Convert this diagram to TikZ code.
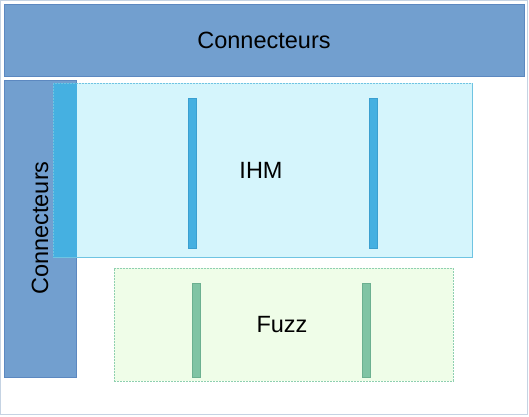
\documentclass[tikz,border=0pt]{standalone}
\usepackage{fontspec}
\setmainfont{Liberation Sans}
\begin{document}
\begin{tikzpicture}[x=1pt,y=-1pt,
  conbar/.style={fill=conblue,draw=conedge,line width=0.8pt},
  ihmbox/.style={fill=ihmfill,draw=ihmedge,dashed,dash pattern=on 2pt off 1pt,line width=0.8pt},
  fuzzbox/.style={fill=fuzzfill,draw=fuzzedge,dash pattern=on 2pt off 1pt,line width=0.8pt},
  ihmbar/.style={fill=ihmbarc,draw=ihmbaredge,line width=0.6pt},
  fuzzbar/.style={fill=fuzzbarc,draw=fuzzbaredge,line width=0.6pt},
  lbl/.style={font=\fontsize{23.5}{26}\selectfont,text=black,inner sep=0pt}]
\definecolor{conblue}{HTML}{729FCF}
\definecolor{conedge}{HTML}{5C88C0}
\definecolor{ihmfill}{HTML}{D5F5FC}
\definecolor{ihmedge}{HTML}{6FC4E2}
\definecolor{fuzzfill}{HTML}{EFFDE8}
\definecolor{fuzzedge}{HTML}{8FD0B0}
\definecolor{ihmbarc}{HTML}{45B0E1}
\definecolor{ihmbaredge}{HTML}{3A9FD0}
\definecolor{fuzzbarc}{HTML}{80C4A4}
\definecolor{fuzzbaredge}{HTML}{6CB090}
\definecolor{frame}{HTML}{C5D3E3}
\useasboundingbox (0,0) rectangle (529,416);
\draw[frame,line width=1pt] (0.5,0.5) rectangle (527.5,414.5);
% top connector bar
\node[conbar,minimum width=520pt,minimum height=72pt,inner sep=0pt,anchor=north west] (top) at (4,4) {};
\node[lbl] (toplbl) at (264,40) {Connecteurs};
% left connector bar
\node[conbar,minimum width=72pt,minimum height=297pt,inner sep=0pt,anchor=north west] (left) at (4,80) {};
\node[lbl,rotate=90] (leftlbl) at (40,228) {Connecteurs};
% IHM box
\node[ihmbox,minimum width=419pt,minimum height=174pt,inner sep=0pt,anchor=north west] (ihm) at (53,83) {};
\node[fill=ihmbarc,draw=none,minimum width=24pt,minimum height=174pt,inner sep=0pt,anchor=north west] (ihmleft) at (53,83) {};
\draw[ihmedge,dash pattern=on 2pt off 1pt,line width=0.8pt] (ihm.north west) rectangle (ihm.south east);
\node[ihmbar,minimum width=8pt,minimum height=150pt,inner sep=0pt,anchor=north west] (ib1) at (188,98) {};
\node[ihmbar,minimum width=8pt,minimum height=150pt,inner sep=0pt,anchor=north west] (ib2) at (369,98) {};
\node[lbl] (ihmlbl) at (261,170) {IHM};
% Fuzz box
\node[fuzzbox,minimum width=339pt,minimum height=113pt,inner sep=0pt,anchor=north west] (fuzz) at (114,268) {};
\node[fuzzbar,minimum width=8pt,minimum height=94pt,inner sep=0pt,anchor=north west] (fb1) at (192,283) {};
\node[fuzzbar,minimum width=8pt,minimum height=94pt,inner sep=0pt,anchor=north west] (fb2) at (362,283) {};
\node[lbl] (fuzzlbl) at (282,325) {Fuzz};
\end{tikzpicture}
\end{document}
